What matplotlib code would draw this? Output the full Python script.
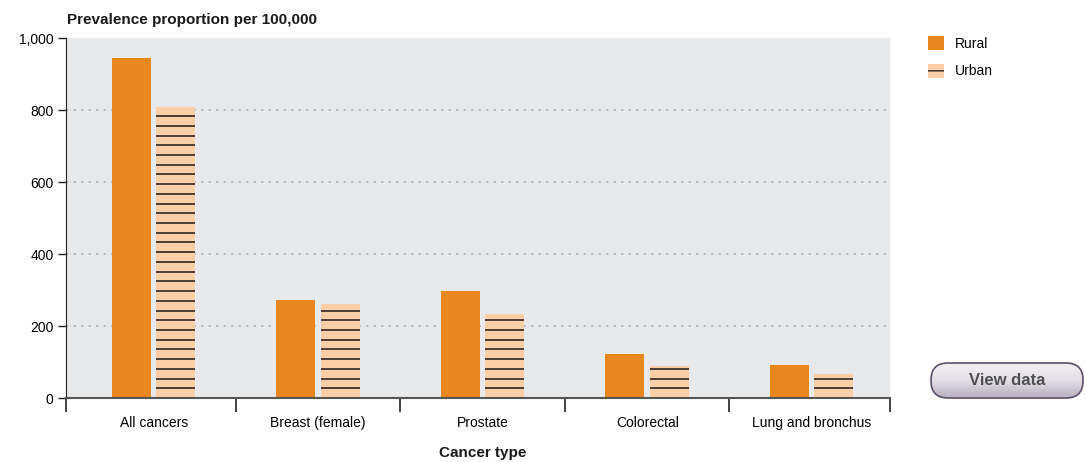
import numpy as np
import matplotlib.pyplot as plt
from matplotlib.patches import Patch, FancyBboxPatch
from matplotlib.ticker import FixedLocator, FuncFormatter

plt.rcParams['font.family'] = ['Liberation Sans', 'DejaVu Sans']

kategori = ['All cancers', 'Breast (female)', 'Prostate', 'Colorectal', 'Lung and bronchus']
rural = [944, 272, 297, 122, 92]
urban = [808, 261, 233, 89, 67]
yticks = [0, 200, 400, 600, 800, 1000]

warna_rural = '#E8871E'
warna_urban = '#FCCFA8'
warna_garis = '#2e2620'

fig = plt.figure(figsize=(10.86, 4.62), dpi=100)
ax = fig.add_axes([66 / 1086, 64 / 462, 824 / 1086, 360 / 462])
ax.set_facecolor('#E8E9EB')

x = np.arange(len(kategori))
lebar = 0.237
geser = 0.135

ax.bar(x - geser, rural, lebar, color=warna_rural, zorder=3)
ax.bar(x + geser, urban, lebar, color=warna_urban, zorder=3)

# garis mendatar di dalam batang urban
langkah = 27
for xi, tinggi in zip(x, urban):
    for yy in np.arange(langkah, tinggi, langkah):
        ax.hlines(yy, xi + geser - lebar / 2, xi + geser + lebar / 2,
                  color=warna_garis, lw=1.2, zorder=4)

xmin, xmax = -0.533, 4.476
ax.set_xlim(xmin, xmax)
ax.set_ylim(0, 1000)

for yy in yticks[1:-1]:
    ax.axhline(yy, color='#b4b6b8', lw=1.2, ls=(0, (1.5, 3)), zorder=1)

ax.set_yticks(yticks)
ax.yaxis.set_major_formatter(FuncFormatter(lambda v, p: f'{int(v):,}'))
ax.tick_params(axis='y', length=6, width=1, color='#222222', labelsize=10, pad=3)

ax.set_xticks(x)
ax.set_xticklabels(kategori)
batas = [xmin] + list(np.arange(0.5, len(kategori) - 1, 1.0)) + [xmax]
ax.xaxis.set_minor_locator(FixedLocator(batas))
ax.tick_params(axis='x', which='major', length=0, labelsize=10, pad=13)
ax.tick_params(axis='x', which='minor', length=10, width=1.2, color='#222222')

for s in ['top', 'right']:
    ax.spines[s].set_visible(False)
ax.spines['left'].set_color('#222222')
ax.spines['bottom'].set_color('#555555')
ax.spines['bottom'].set_linewidth(1.5)
ax.spines['bottom'].set_zorder(5)

fig.text(67 / 1086, 1 - 20 / 462, 'Prevalence proportion per 100,000',
         fontsize=11, fontweight='bold', va='center', ha='left', color='#1a1a1a')
fig.text(483 / 1086, 1 - 453 / 462, 'Cancer type',
         fontsize=11, fontweight='bold', va='center', ha='center', color='#1a1a1a')

plt.rcParams['hatch.linewidth'] = 1.0
handles = [Patch(facecolor=warna_rural, edgecolor='none', label='Rural'),
           Patch(facecolor=warna_urban, edgecolor=warna_garis, lw=0, hatch='--', label='Urban')]
fig.legend(handles=handles, loc='upper left', bbox_to_anchor=(928 / 1086, 1 - 36 / 462),
           frameon=False, fontsize=10, handlelength=1.15, handleheight=1.15,
           handletextpad=0.75, labelspacing=0.95, borderaxespad=0, borderpad=0)

# tombol "View data"
axb = fig.add_axes([929 / 1086, 62 / 462, 156 / 1086, 39 / 462])
axb.set_xlim(0, 156)
axb.set_ylim(0, 39)
axb.axis('off')
tombol = FancyBboxPatch((2, 2), 152, 35, boxstyle='round,pad=0,rounding_size=17',
                        facecolor='none', edgecolor='#5c4f6b', lw=1.2, zorder=3)
axb.add_patch(tombol)
gradien = np.linspace(0, 1, 64).reshape(-1, 1)
img = axb.imshow(gradien, extent=(2, 154, 2, 37), aspect='auto', origin='lower',
                 cmap=plt.matplotlib.colors.LinearSegmentedColormap.from_list(
                     'tombol', ['#b9b0bf', '#e2dee5', '#f3f1f4']), zorder=2)
img.set_clip_path(tombol)
axb.text(78, 19.5, 'View data', fontsize=12, fontweight='bold',
         color='#505050', ha='center', va='center', zorder=4)

fig.savefig('out.png', dpi=100)
